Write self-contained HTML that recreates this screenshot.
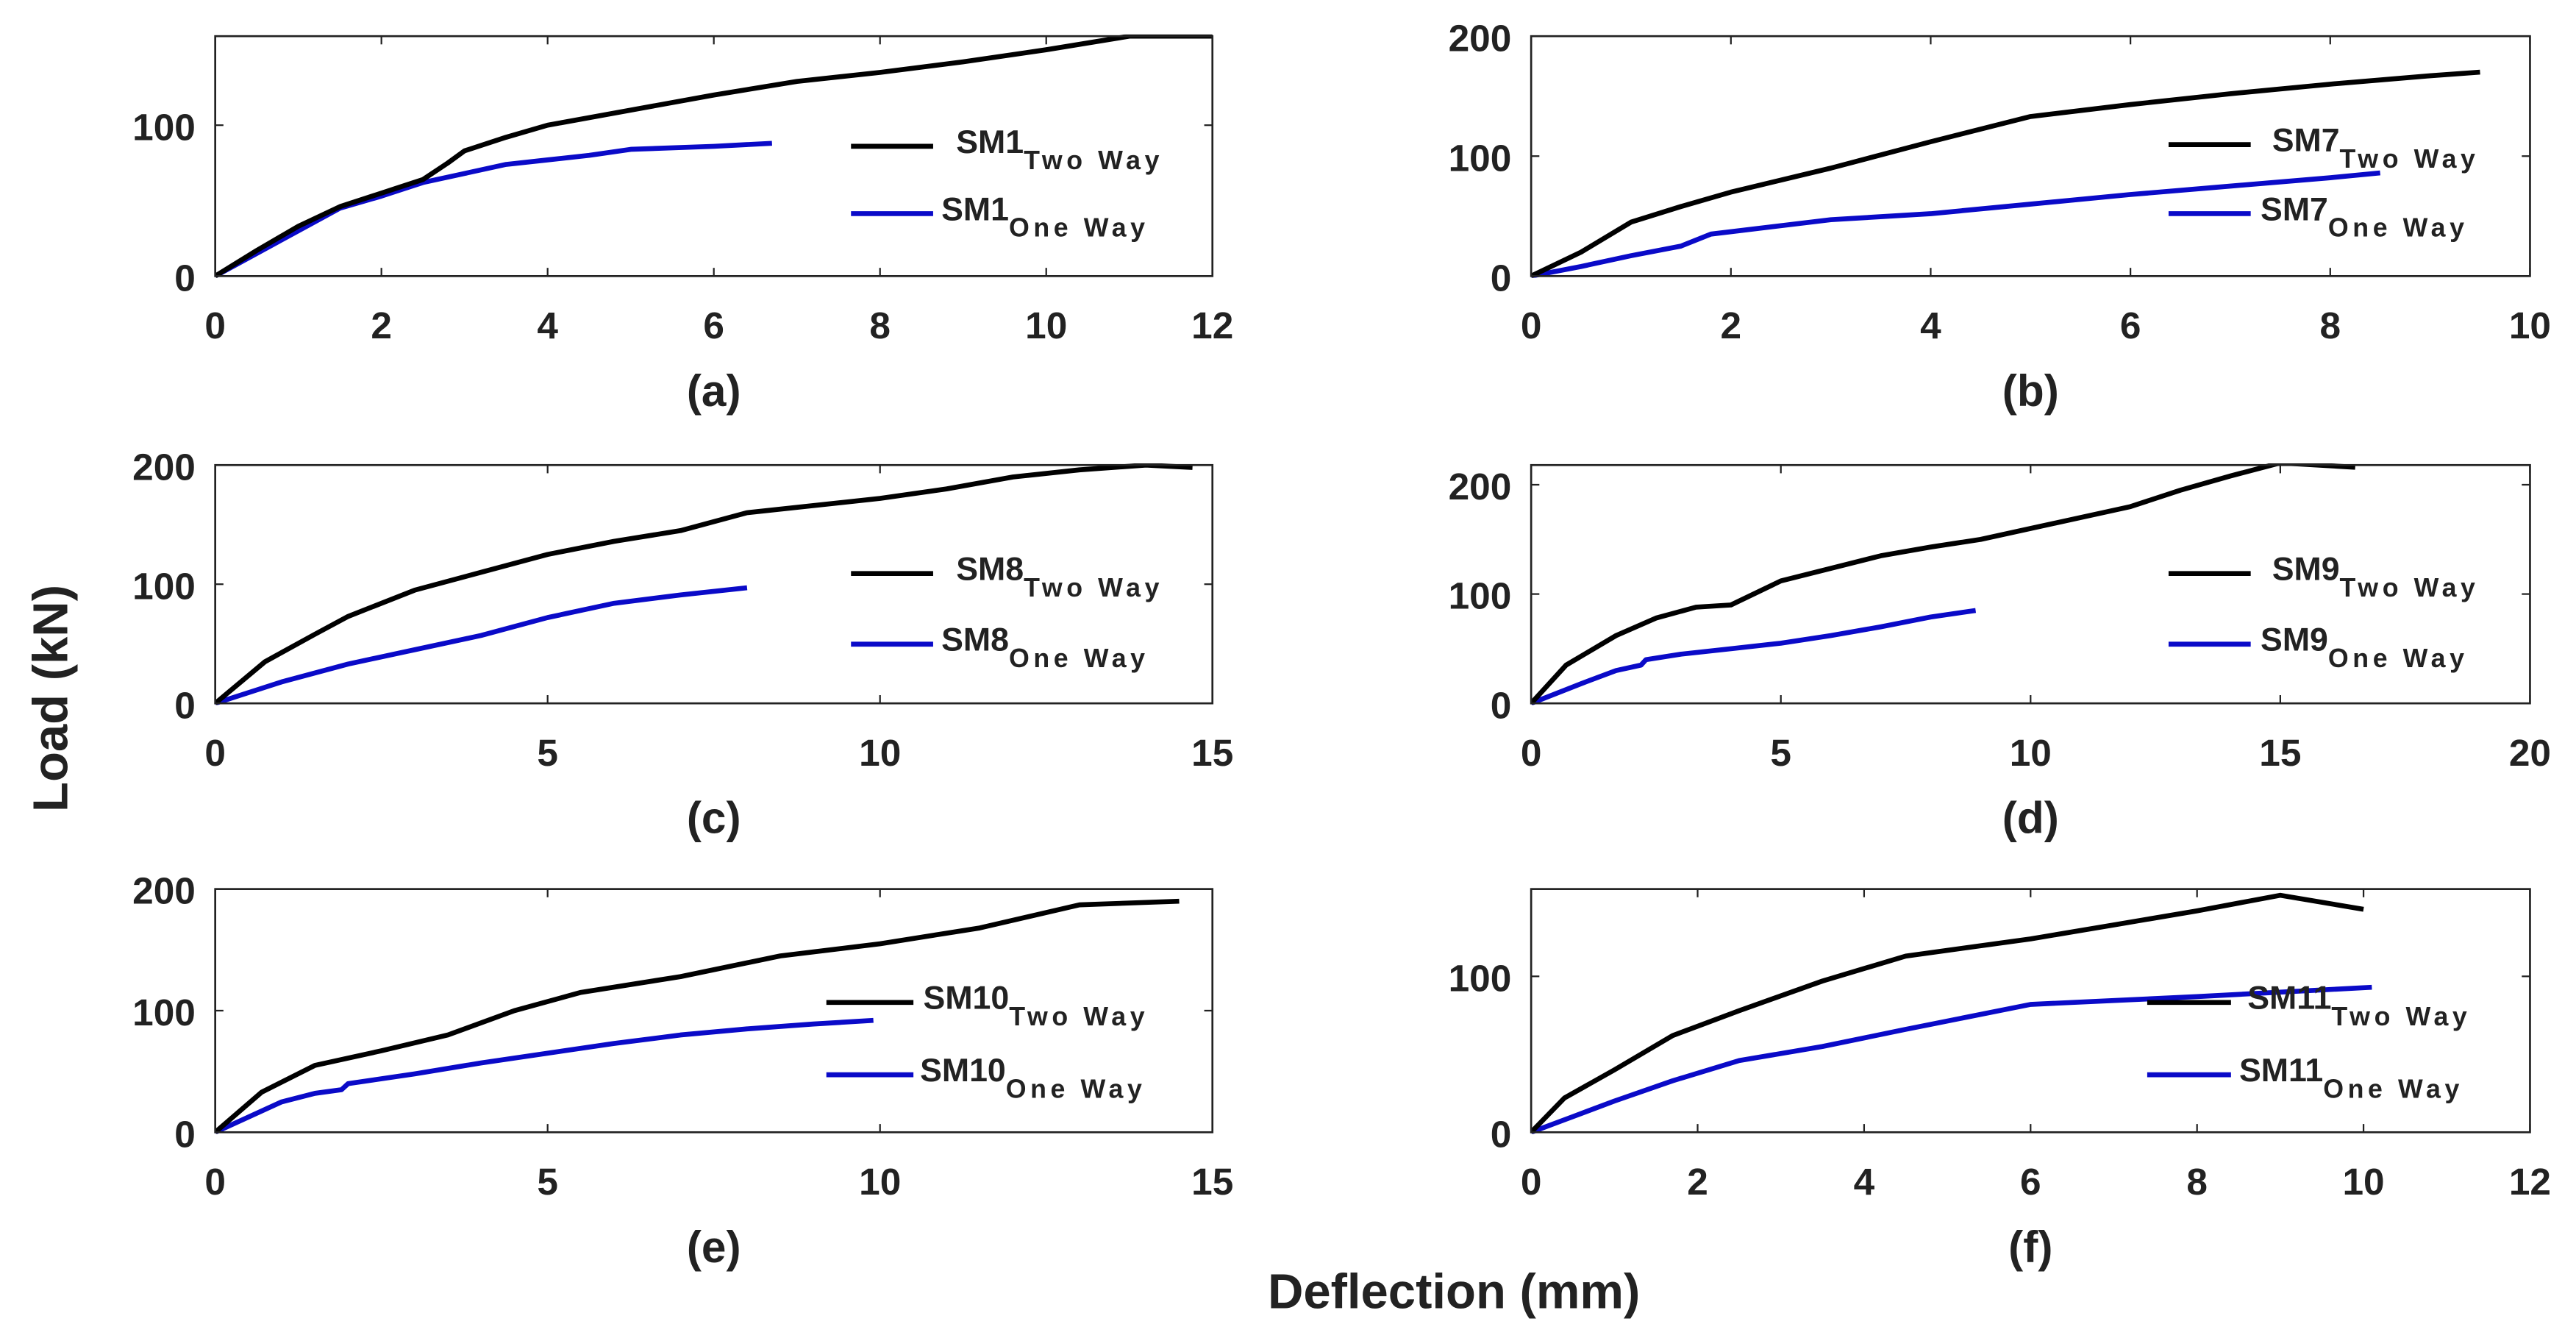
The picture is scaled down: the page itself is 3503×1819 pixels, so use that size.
<!DOCTYPE html>
<html><head><meta charset="utf-8">
<style>
html,body{margin:0;padding:0;background:#fff;}
svg{display:block;}
text{font-family:"Liberation Sans",Arial,sans-serif;font-weight:bold;fill:#222;}
</style></head>
<body>
<svg id="fig" xmlns="http://www.w3.org/2000/svg" width="3503" height="1819" viewBox="0 0 1568 814.2">
<text x="0" y="0" font-size="30" text-anchor="middle" transform="translate(41,425) rotate(-90)">Load (kN)</text>
<text x="885" y="796" font-size="30" text-anchor="middle">Deflection (mm)</text>
</svg>
<script>
// ---- data ----
const panelLabels = ["(a)","(b)","(c)","(d)","(e)","(f)"];
const specimenNames = ["SM1","SM7","SM8","SM9","SM10","SM11"];
const xMax = [12,10,15,20,15,12];
const yMax = [159,200,200,218,200,156];
const xTicks = [[0,2,4,6,8,10,12],[0,2,4,6,8,10],[0,5,10,15],[0,5,10,15,20],[0,5,10,15],[0,2,4,6,8,10,12]];
const yTicks = [[0,100],[0,100,200],[0,100,200],[0,100,200],[0,100,200],[0,100]];

const twoWayX_a = [0,0.5,1,1.5,2,2.5,2.8,3,3.5,4,5,6,7,8,9,10,11,12];
const twoWayY_a = [0,17,33,46,55,64,75,83,92,100,110,120,129,135,142,150,159,159];
const oneWayX_a = [0,0.5,1,1.5,2,2.5,3,3.5,4,4.5,5,6,6.7];
const oneWayY_a = [0,15,30,45,53,62,68,74,77,80,84,86,88];

const twoWayX_b = [0,0.5,1,1.5,2,3,4,5,6,7,8,9,9.5];
const twoWayY_b = [0,20,45,58,70,90,112,133,143,152,160,167,170];
const oneWayX_b = [0,0.5,1,1.5,1.8,2,3,4,5,6,7,8,8.5];
const oneWayY_b = [0,8,17,25,35,37,47,52,60,68,75,82,86];

const twoWayX_c = [0,0.75,1.5,2,3,4,5,6,7,8,10,11,12,13,14,14.7];
const twoWayY_c = [0,35,58,73,95,110,125,136,145,160,172,180,190,196,200,198];
const oneWayX_c = [0,1,2,3,4,5,6,7,8];
const oneWayY_c = [0,18,33,45,57,72,84,91,97];

const twoWayX_d = [0,0.7,1.7,2.5,3.3,4,5,7,8,9,10,12,13,14,15,16.5];
const twoWayY_d = [0,35,62,78,88,90,112,135,143,150,160,180,195,208,220,216];
const oneWayX_d = [0,1,1.7,2.2,2.3,3,4,5,6,7,8,8.9];
const oneWayY_d = [0,18,30,35,40,45,50,55,62,70,79,85];

const twoWayX_e = [0,0.7,1.5,2.5,3.5,4.5,5.5,7,8.5,10,11.5,13,14.5];
const twoWayY_e = [0,33,55,67,80,100,115,128,145,155,168,187,190];
const oneWayX_e = [0,1,1.5,1.9,2,3,4,5,6,7,8,9,9.9];
const oneWayY_e = [0,25,32,35,40,48,57,65,73,80,85,89,92];

const twoWayX_f = [0,0.4,1,1.7,2.5,3.5,4.5,6,7,8,9,10];
const twoWayY_f = [0,22,40,62,78,97,113,124,133,142,152,143];
const oneWayX_f = [0,0.5,1,1.7,2.5,3.5,4.5,6,8,10.1];
const oneWayY_f = [0,10,20,33,46,55,66,82,87,93];

const seriesTwoX = [twoWayX_a,twoWayX_b,twoWayX_c,twoWayX_d,twoWayX_e,twoWayX_f];
const seriesTwoY = [twoWayY_a,twoWayY_b,twoWayY_c,twoWayY_d,twoWayY_e,twoWayY_f];
const seriesOneX = [oneWayX_a,oneWayX_b,oneWayX_c,oneWayX_d,oneWayX_e,oneWayX_f];
const seriesOneY = [oneWayY_a,oneWayY_b,oneWayY_c,oneWayY_d,oneWayY_e,oneWayY_f];

// ---- layout ----
const boxes = [
 {l:131,r:738,t:22,b:168, lg:[518,568,89,582,130,573]},
 {l:932,r:1540,t:22,b:168, lg:[1320,1370,88,1383,130,1376]},
 {l:131,r:738,t:283,b:428, lg:[518,568,349,582,392,573]},
 {l:932,r:1540,t:283,b:428, lg:[1320,1370,349,1383,392,1376]},
 {l:131,r:738,t:541,b:689, lg:[503,556,610,562,654,560]},
 {l:932,r:1540,t:541,b:689, lg:[1307,1358,610,1368,654,1363]}
];
const NS="http://www.w3.org/2000/svg";
const svg=document.getElementById('fig');
function mk(tag,attrs,parent){const e=document.createElementNS(NS,tag);for(const k in attrs)e.setAttribute(k,attrs[k]);(parent||svg).appendChild(e);return e;}

boxes.forEach((B,i)=>{
  const g=mk('g',{});
  
  
  const xs=v=>B.l+(B.r-B.l)*v/xMax[i];
  const ys=v=>B.b-(B.b-B.t)*v/yMax[i];
  const cid='clip'+i;
  const cp=mk('clipPath',{id:cid},g);
  mk('rect',{x:B.l,y:B.t-1,width:B.r-B.l+2,height:B.b-B.t+2},cp);
  xTicks[i].forEach(v=>{
    const x=xs(v);
    mk('line',{x1:x,x2:x,y1:B.b,y2:B.b-5,stroke:'#222','stroke-width':1},g);
    mk('line',{x1:x,x2:x,y1:B.t,y2:B.t+5,stroke:'#222','stroke-width':1},g);
    const t=mk('text',{x:x,y:B.b+38,'font-size':23,'text-anchor':'middle'},g);
    t.textContent=v;
    
    
  });
  yTicks[i].forEach(v=>{
    const y=ys(v);
    mk('line',{x1:B.l,x2:B.l+5,y1:y,y2:y,stroke:'#222','stroke-width':1},g);
    mk('line',{x1:B.r,x2:B.r-5,y1:y,y2:y,stroke:'#222','stroke-width':1},g);
    const t=mk('text',{x:B.l-12,y:y+9,'font-size':23,'text-anchor':'end'},g);
    t.textContent=v;
    
    
  });
  const mkLine=(X,Y,col,name)=>{
    const p=mk('polyline',{points:X.map((x,j)=>xs(x)+','+ys(Y[j])).join(' '),fill:'none',stroke:col,'stroke-width':3,'stroke-linejoin':'round','clip-path':'url(#'+cid+')'},g);
    
    
  };
  mkLine(seriesOneX[i],seriesOneY[i],'#0a0ac8','one-way-line');
  mkLine(seriesTwoX[i],seriesTwoY[i],'#000','two-way-line');
  const fr=mk('rect',{x:B.l,y:B.t,width:B.r-B.l,height:B.b-B.t,fill:'none',stroke:'#222','stroke-width':1.2},g);
  
  
  const L=B.lg;
  const l1=mk('line',{x1:L[0],x2:L[1],y1:L[2],y2:L[2],stroke:'#000','stroke-width':3},g);
  
  
  const t1=mk('text',{x:L[3],y:L[2]+4,'font-size':20},g);
  
  
  t1.innerHTML=specimenNames[i]+'<tspan dy="10" font-size="16" letter-spacing="2.5">Two Way</tspan>';
  const l2=mk('line',{x1:L[0],x2:L[1],y1:L[4],y2:L[4],stroke:'#0a0ac8','stroke-width':3},g);
  
  
  const t2=mk('text',{x:L[5],y:L[4]+4,'font-size':20},g);
  
  
  t2.innerHTML=specimenNames[i]+'<tspan dy="10" font-size="16" letter-spacing="2.5">One Way</tspan>';
  const pl=mk('text',{x:(B.l+B.r)/2,y:B.b+79,'font-size':27,'text-anchor':'middle'},g);
  pl.textContent=panelLabels[i];
  
  
});
</script>
</body></html>
